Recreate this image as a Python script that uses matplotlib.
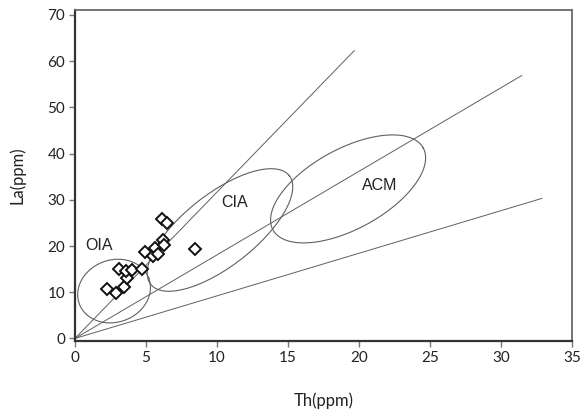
import numpy as np
import matplotlib
matplotlib.use("Agg")
import matplotlib.pyplot as plt

# Sample data: Th and La concentrations (ppm)
th = [2.23, 2.89, 3.47, 3.64, 3.12, 3.57, 3.99, 4.70, 4.93, 5.51, 5.63,
      5.87, 6.22, 6.29, 6.10, 6.50, 8.45]
la = [10.6, 9.9, 11.2, 13.0, 15.0, 14.7, 14.8, 15.0, 18.8, 17.9, 19.5,
      18.2, 21.3, 20.2, 25.9, 24.9, 19.3]

# Discrimination lines radiating from the origin: end points (Th, La)
line_th_end = [19.67, 31.46, 32.87]
line_la_end = [62.3, 56.9, 30.3]

# Tectonic-setting fields: centre and two conjugate semi-diameters (Th, La)
field_names = ["OIA", "CIA", "ACM"]
field_centre = [(2.75, 10.25), (10.21, 23.47), (19.23, 32.36)]
field_u = [(2.45, 2.74), (4.88, 11.75), (5.29, 8.87)]
field_v = [(-0.75, 6.32), (-1.56, 6.15), (-1.35, 7.61)]
label_pos = [(1.69, 20.2), (11.27, 29.5), (21.48, 33.2)]

x_ticks = [0, 5, 10, 15, 20, 25, 30, 35]
y_ticks = [0, 10, 20, 30, 40, 50, 60, 70]

fig = plt.figure(figsize=(5.8, 4.16), dpi=100)
ax = fig.add_axes([0.1293, 0.180, 0.857, 0.796])

line_col = "#606060"
for xe, ye in zip(line_th_end, line_la_end):
    ax.plot([0, xe], [0, ye], color=line_col, lw=0.7, zorder=2)

t = np.linspace(0, 2 * np.pi, 300)
for c, u, v in zip(field_centre, field_u, field_v):
    xs = c[0] + u[0] * np.cos(t) + v[0] * np.sin(t)
    ys = c[1] + u[1] * np.cos(t) + v[1] * np.sin(t)
    ax.plot(xs, ys, color=line_col, lw=0.8, zorder=2)

for name, (lx, ly) in zip(field_names, label_pos):
    ax.text(lx, ly, name, ha="center", va="center", fontsize=11.5,
            family="Liberation Sans", color="#222222", zorder=3)

ax.plot(th, la, linestyle="none", marker="D", ms=6.4, mew=1.4,
        mfc="white", mec="#111111", zorder=4)

ax.set_xlim(0, 35)
ax.set_ylim(-0.58, 71.08)
ax.set_xticks(x_ticks)
ax.set_yticks(y_ticks)
ax.tick_params(direction="out", length=4, width=1.0, color="#777777",
               labelsize=11, labelcolor="#222222", pad=3)
for lab in ax.get_xticklabels() + ax.get_yticklabels():
    lab.set_family("Lato")

for side in ("left", "bottom"):
    ax.spines[side].set_color("#333333")
    ax.spines[side].set_linewidth(1.6)
for side in ("top", "right"):
    ax.spines[side].set_color("#6a6a6a")
    ax.spines[side].set_linewidth(1.3)

ax.set_xlabel("Th(ppm)", fontsize=12, family="Lato", color="#222222",
              labelpad=20)
ax.set_ylabel("La(ppm)", fontsize=12, family="Lato", color="#222222",
              labelpad=16)

fig.savefig("out.png", dpi=100)
